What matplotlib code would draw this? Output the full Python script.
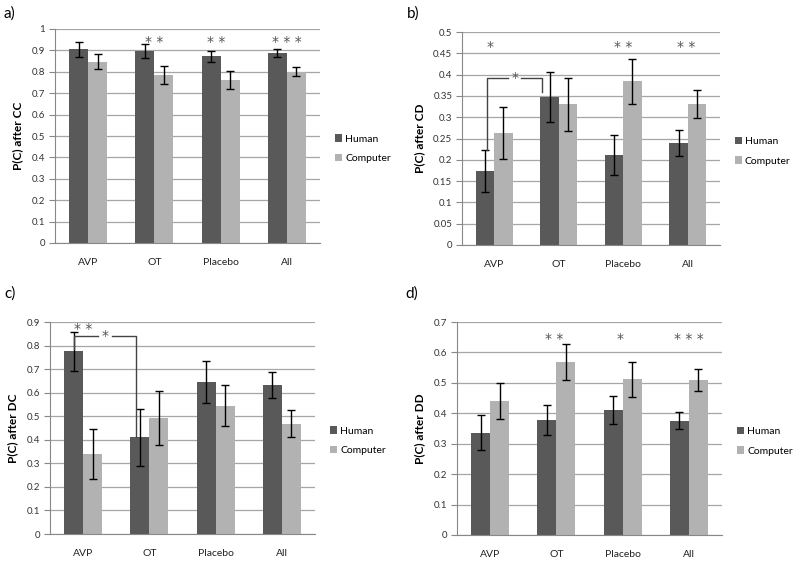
import numpy as np
import matplotlib
matplotlib.use("Agg")
import matplotlib.pyplot as plt

plt.rcParams["font.family"] = ["Lato", "DejaVu Sans"]

categories = ["AVP", "OT", "Placebo", "All"]

cc_human = [0.906, 0.898, 0.872, 0.888]
cc_human_err = [0.035, 0.032, 0.025, 0.019]
cc_comp = [0.848, 0.785, 0.760, 0.800]
cc_comp_err = [0.033, 0.043, 0.042, 0.021]

cd_human = [0.174, 0.348, 0.211, 0.240]
cd_human_err = [0.050, 0.059, 0.047, 0.031]
cd_comp = [0.263, 0.330, 0.384, 0.331]
cd_comp_err = [0.060, 0.063, 0.052, 0.033]

dc_human = [0.776, 0.410, 0.647, 0.633]
dc_human_err = [0.082, 0.120, 0.089, 0.056]
dc_comp = [0.339, 0.492, 0.545, 0.469]
dc_comp_err = [0.106, 0.113, 0.087, 0.058]

dd_human = [0.336, 0.377, 0.411, 0.376]
dd_human_err = [0.058, 0.049, 0.045, 0.029]
dd_comp = [0.440, 0.569, 0.512, 0.509]
dd_comp_err = [0.060, 0.060, 0.058, 0.036]

# significance stars: (category position, text, height)
cc_stars = [(1.0, "* *", 0.94), (1.94, "* *", 0.94), (3.0, "* * *", 0.94)]
cd_stars = [(-0.07, "*", 0.465), (2.0, "* *", 0.465), (2.98, "* *", 0.465)]
dc_stars = [(0.0, "* *", 0.872)]
dd_stars = [(0.97, "* *", 0.645), (1.96, "*", 0.645), (3.0, "* * *", 0.645)]

# brackets: x from, x to, y of left foot, y of top, y of right foot, star x
cd_bracket = [-0.12, 0.74, 0.224, 0.391, 0.36, 0.32]
dc_bracket = [-0.143, 0.80, 0.787, 0.839, 0.41, 0.33]

human_col = "#595959"
comp_col = "#b2b2b2"
grid_col = "#a6a6a6"
star_col = "#555555"

fig = plt.figure(figsize=(8, 5.62), dpi=100)
W, H = 800, 562


def make_ax(l, r, t, b):
    return fig.add_axes([l / W, 1 - b / H, (r - l) / W, (b - t) / H])


def panel(ax, human, herr, comp, cerr, ymax, step, ylabel, stars, fmt):
    x = np.arange(len(categories))
    w = 1 / 3.5
    ax.bar(x - w / 2, human, w, color=human_col, label="Human", zorder=2)
    ax.bar(x + w / 2, comp, w, color=comp_col, label="Computer", zorder=2)
    ax.errorbar(x - w / 2, human, yerr=herr, fmt="none", ecolor="black",
                elinewidth=1, capsize=3, capthick=1, zorder=3)
    ax.errorbar(x + w / 2, comp, yerr=cerr, fmt="none", ecolor="black",
                elinewidth=1, capsize=3, capthick=1, zorder=3)
    ax.set_xlim(-0.5, len(categories) - 0.5)
    ax.set_ylim(0, ymax)
    ticks = np.arange(0, ymax + step / 2, step)
    ax.set_yticks(ticks)
    ax.set_yticklabels([fmt(t) for t in ticks], fontsize=7, color="#333333")
    ax.yaxis.grid(True, color=grid_col, linewidth=0.9, zorder=0)
    ax.set_axisbelow(True)
    ax.set_xticks(x)
    ax.set_xticklabels(categories, fontsize=7.5, color="#222222")
    ax.tick_params(axis="x", length=0, pad=11)
    ax.tick_params(axis="y", length=4, color="#888888", width=0.8, pad=3)
    for s in ["top", "right"]:
        ax.spines[s].set_visible(False)
    ax.spines["left"].set_color("#888888")
    ax.spines["bottom"].set_color("#888888")
    ax.set_ylabel(ylabel, fontsize=8.5, fontweight="bold", labelpad=6)
    for xs, txt, ys in stars:
        ax.text(xs, ys, txt, ha="center", va="center", fontsize=10,
                color=star_col, family="DejaVu Sans")
    ax.legend(loc="center left", bbox_to_anchor=(1.02, 0.44), frameon=False,
              fontsize=7.5, handlelength=0.7, handleheight=0.7,
              handletextpad=0.3, labelspacing=1.0)
    return ax


def bracket(ax, br):
    x0, x1, y0, ytop, y1, xs = br
    ax.plot([x0, x0, xs - 0.1], [y0, ytop, ytop], color="#444444", lw=1, zorder=4)
    ax.plot([xs + 0.1, x1, x1], [ytop, ytop, y1], color="#444444", lw=1, zorder=4)
    ax.text(xs, ytop, "*", ha="center", va="center", fontsize=10,
            color=star_col, family="DejaVu Sans", zorder=4)


f1 = lambda t: "0" if t == 0 else ("1" if abs(t - 1) < 1e-9 else ("%.1f" % t))
f2 = lambda t: "0" if t == 0 else ("%.2f" % t).rstrip("0")

ax_a = make_ax(55, 320, 29, 243)
panel(ax_a, cc_human, cc_human_err, cc_comp, cc_comp_err, 1.0, 0.1,
      "P(C) after CC", cc_stars, f1)

ax_b = make_ax(462, 720, 32, 245)
panel(ax_b, cd_human, cd_human_err, cd_comp, cd_comp_err, 0.5, 0.05,
      "P(C) after CD", cd_stars, f2)
bracket(ax_b, cd_bracket)

ax_c = make_ax(50, 315, 322, 534)
panel(ax_c, dc_human, dc_human_err, dc_comp, dc_comp_err, 0.9, 0.1,
      "P(C) after DC", dc_stars, f1)
bracket(ax_c, dc_bracket)

ax_d = make_ax(457, 722, 322, 535)
panel(ax_d, dd_human, dd_human_err, dd_comp, dd_comp_err, 0.7, 0.1,
      "P(C) after DD", dd_stars, f1)

for lbl, px, py in [("a)", 4, 14), ("b)", 407, 14), ("c)", 4, 294), ("d)", 405, 294)]:
    fig.text(px / W, 1 - py / H, lbl, fontsize=11, va="center", ha="left")

fig.savefig("out.png", dpi=100)
